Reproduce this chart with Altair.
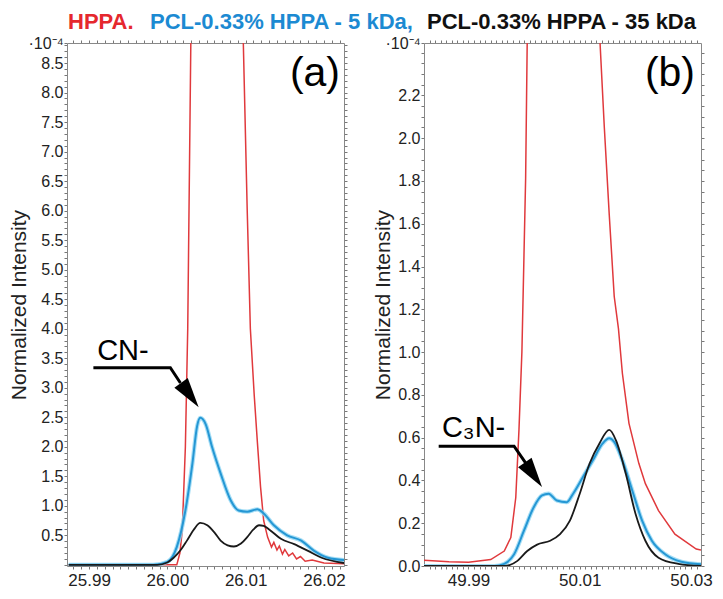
import altair as alt
import pandas as pd

# ---------------- data ----------------
# Panel (a): CN- region (m/z ~ 26.00)
a_hppa_x = [25.9874, 26.0012, 26.0016, 26.0019, 26.0023, 26.0026, 26.0030, 26.0040, 26.0060,
            26.0085, 26.0097, 26.0102, 26.0106, 26.0111, 26.0115, 26.0119, 26.0123, 26.0128,
            26.0133, 26.0136, 26.0140, 26.0143, 26.0147, 26.0150, 26.0155, 26.0160, 26.0165,
            26.0170, 26.0176, 26.0185, 26.0200, 26.0226]
a_hppa_y = [0.0, 0.0, 0.2, 0.58, 2.0, 4.0, 8.9, 25.0, 40.0,
            25.0, 8.84, 6.0, 4.0, 2.86, 2.07, 1.32, 0.75, 0.47,
            0.30, 0.38, 0.25, 0.32, 0.18, 0.26, 0.15, 0.20, 0.10,
            0.14, 0.06, 0.08, 0.03, 0.02]

a_5k_x = [25.9874, 25.9982, 26.0000, 26.0012, 26.0023, 26.0032, 26.0038, 26.0042, 26.0049,
          26.0057, 26.0068, 26.0081, 26.0091, 26.0102, 26.0115, 26.0123, 26.0136, 26.0153,
          26.0171, 26.0187, 26.0205, 26.0226]
a_5k_y = [0.0, 0.0, 0.05, 0.30, 0.92, 1.72, 2.35, 2.49, 2.38,
          2.0, 1.55, 1.09, 0.92, 0.90, 0.94, 0.87, 0.67, 0.50,
          0.41, 0.24, 0.12, 0.08]

a_35k_x = [25.9874, 25.9987, 26.0000, 26.0008, 26.0017, 26.0025, 26.0034, 26.0042, 26.0051,
           26.0060, 26.0068, 26.0077, 26.0085, 26.0094, 26.0102, 26.0110, 26.0117, 26.0123,
           26.0130, 26.0145, 26.0162, 26.0179, 26.0197, 26.0226]
a_35k_y = [0.0, 0.0, 0.04, 0.12, 0.25, 0.41, 0.60, 0.71, 0.67,
           0.55, 0.41, 0.33, 0.31, 0.36, 0.47, 0.60, 0.67, 0.66,
           0.60, 0.44, 0.35, 0.24, 0.12, 0.03]

# Panel (b): C3N- region (m/z ~ 50.00)
b_hppa_x = [49.9820, 49.9865, 49.9900, 49.9940, 49.99643, 49.99761, 49.99850, 49.99908,
            49.99960, 50.00027, 50.00056, 50.0020, 50.0070, 50.0120, 50.01366, 50.01442,
            50.01531, 50.01620, 50.01696, 50.01767, 50.01885, 50.02062, 50.02180, 50.02416,
            50.02711, 50.03094, 50.0318]
b_hppa_y = [0.027, 0.020, 0.017, 0.030, 0.070, 0.133, 0.32, 0.64,
            1.00, 1.81, 2.46, 4.5, 6.0, 4.5, 2.44, 2.05,
            1.64, 1.26, 1.11, 0.90, 0.667, 0.48, 0.385, 0.259,
            0.149, 0.079, 0.075]

b_5k_x = [49.9820, 49.99466, 49.99643, 49.99820, 49.99997, 50.00173, 50.00322, 50.00439,
          50.00588, 50.00765, 50.00881, 50.01058, 50.01235, 50.01412, 50.01531, 50.01620,
          50.01767, 50.01944, 50.02121, 50.02297, 50.02535, 50.02828, 50.0318]
b_5k_y = [0.0, 0.0, 0.01, 0.055, 0.165, 0.275, 0.33, 0.338,
          0.306, 0.298, 0.338, 0.416, 0.494, 0.573, 0.597, 0.58,
          0.494, 0.353, 0.212, 0.118, 0.055, 0.02, 0.008]

b_35k_x = [49.9820, 49.99643, 49.99880, 50.00056, 50.00234, 50.00469, 50.00646, 50.00823,
           50.01000, 50.01177, 50.01354, 50.01531, 50.01650, 50.01827, 50.02004, 50.02180,
           50.02416, 50.02770, 50.0318]
b_35k_y = [0.0, 0.0, 0.024, 0.07, 0.10, 0.118, 0.149, 0.212,
           0.338, 0.479, 0.573, 0.636, 0.588, 0.432, 0.243, 0.118,
           0.039, 0.01, 0.0]

# tick labels
a_x_labels = [25.99, 26.00, 26.01, 26.02]
b_x_labels = [49.99, 50.01, 50.03]
a_y_labels = [0.5, 1.0, 1.5, 2.0, 2.5, 3.0, 3.5, 4.0, 4.5, 5.0, 5.5, 6.0, 6.5, 7.0, 7.5, 8.0, 8.5]
b_y_labels = [0.0, 0.2, 0.4, 0.6, 0.8, 1.0, 1.2, 1.4, 1.6, 1.8, 2.0, 2.2]
exp_label = "·10⁻⁴"

# annotations (data coordinates)
a_note = "CN-"
a_note_xy = (25.99103, 3.47)
a_arrow_x = [25.99055, 26.00038, 26.00167]
a_arrow_y = [3.34, 3.34, 3.08]
a_tip = (26.0040, 2.67)

b_note = "C₃N-"
b_note_xy = (49.98522, 0.603)
b_arrow_x = [49.98464, 49.99819, 50.00039]
b_arrow_y = [0.56, 0.56, 0.477]
b_tip = (50.00322, 0.369)

title_parts = ["HPPA.", "PCL-0.33% HPPA - 5 kDa,", "PCL-0.33% HPPA - 35 kDa"]
title_colors = ["#e5282e", "#1c8ad2", "#111111"]

RED, BLUE, BLACK = "#e0393c", "#2597d4", "#1a1a1a"
BLUE_HALO = "#8fd6f4"
FONT = "Liberation Sans"
W, H = 277, 523


def panel(xdom, ydom, xticks, yticks, xlabels, ylabels, xfmt, series, note, note_xy,
          arrow_x, arrow_y, tip, tip_angle, tag, title_pad, tag_dx):
    xs = alt.Scale(domain=xdom, nice=False, zero=False)
    ys = alt.Scale(domain=ydom, nice=False, zero=False)
    xcond = " || ".join(f"abs(datum.value - ({v})) < 1e-6" for v in xlabels)
    ycond = " || ".join(f"abs(datum.value - ({v})) < 1e-6" for v in ylabels)
    top = ydom[1]
    bottom_axis = alt.Axis(orient="bottom", values=xticks,
                           labelExpr=f"({xcond}) ? format(datum.value, '{xfmt}') : ''",
                           labelOverlap=False, labelFontSize=17, labelFont=FONT, labelColor="#222",
                           tickSize=3, tickColor="#777", domainColor="#888", grid=False,
                           title=None, labelPadding=3, labelFlush=False)
    left_axis = alt.Axis(orient="left", values=yticks + [top],
                         labelExpr=f"datum.value > {top - 0.005} ? '{exp_label}' : (({ycond}) ? format(datum.value, '.1f') : '')",
                         labelOverlap=False, labelFontSize=16, labelFont=FONT, labelColor="#222",
                         tickSize=3, tickColor="#777", domainColor="#888", grid=False,
                         labelPadding=1, labelFlush=False,
                         title="Normalized Intensity", titleFont=FONT, titleFontSize=21,
                         titleFontWeight="normal", titleColor="#222", titlePadding=title_pad)
    top_axis = alt.Axis(orient="top", values=xticks, labels=False, tickSize=3, tickColor="#777",
                        domainColor="#888", grid=False, title=None)
    right_axis = alt.Axis(orient="right", values=yticks, labels=False, tickSize=3, tickColor="#777",
                          domainColor="#888", grid=False, title=None)

    layers = []
    for i, (sx, sy, col, sw, interp, halo) in enumerate(series):
        df = pd.DataFrame({"x": sx, "y": sy})
        enc = dict(
            x=alt.X("x:Q", scale=xs, axis=bottom_axis if i == 0 else None),
            y=alt.Y("y:Q", scale=ys, axis=left_axis if i == 0 else None),
        )
        if halo:
            layers.append(alt.Chart(df).mark_line(color=halo, strokeWidth=sw + 2.2, clip=True,
                                                  interpolate=interp, opacity=0.8).encode(
                x=alt.X("x:Q", scale=xs, axis=None), y=alt.Y("y:Q", scale=ys, axis=None)))
        layers.append(alt.Chart(df).mark_line(color=col, strokeWidth=sw, clip=True,
                                              interpolate=interp).encode(**enc))
    # arrow shaft (carries the top/right frame axes)
    shaft = alt.Chart(pd.DataFrame({"x": arrow_x, "y": arrow_y})).mark_line(
        color="black", strokeWidth=3).encode(
        x=alt.X("x:Q", scale=xs, axis=top_axis), y=alt.Y("y:Q", scale=ys, axis=right_axis))
    head = alt.Chart(pd.DataFrame({"x": [tip[0]], "y": [tip[1]]})).mark_point(
        shape="M0,0L-0.55,2L0.55,2Z", filled=True, size=900, angle=tip_angle,
        color="black", opacity=1).encode(
        x=alt.X("x:Q", scale=xs, axis=None), y=alt.Y("y:Q", scale=ys, axis=None))
    label = alt.Chart(pd.DataFrame({"x": [note_xy[0]], "y": [note_xy[1]], "t": [note]})).mark_text(
        align="left", baseline="alphabetic", fontSize=29, font=FONT, color="black").encode(
        x=alt.X("x:Q", scale=xs, axis=None), y=alt.Y("y:Q", scale=ys, axis=None), text="t:N")
    tagc = alt.Chart(pd.DataFrame({"t": [tag]})).mark_text(
        align="right", baseline="alphabetic", fontSize=41, font=FONT, color="black").encode(
        x=alt.value(W - tag_dx), y=alt.value(43), text="t:N")
    return alt.layer(*layers, shaft, head, label, tagc).resolve_axis(
        x="independent", y="independent").properties(width=W, height=H)


a_xticks = [round(25.988 + i * 0.001, 3) for i in range(35)]
b_xticks = [round(49.983 + i * 0.001, 3) for i in range(49)]
a_yticks = [round(i * 0.1, 1) for i in range(89)]
b_yticks = [round(i * 0.05, 2) for i in range(49)]

pa = panel([25.98718, 26.02256], [-0.02, 8.84], a_xticks, a_yticks, a_x_labels, a_y_labels, ".2f",
           [(a_hppa_x, a_hppa_y, RED, 1.5, "linear", None),
            (a_5k_x, a_5k_y, BLUE, 2.0, "monotone", BLUE_HALO),
            (a_35k_x, a_35k_y, BLACK, 1.8, "monotone", None)],
           a_note, a_note_xy, a_arrow_x, a_arrow_y, a_tip, 144, "(a)", -1, 4)

pb = panel([49.982, 50.0318], [0.0, 2.445], b_xticks, b_yticks, b_x_labels, b_y_labels, ".2f",
           [(b_hppa_x, b_hppa_y, RED, 1.5, "linear", None),
            (b_5k_x, b_5k_y, BLUE, 2.0, "monotone", BLUE_HALO),
            (b_35k_x, b_35k_y, BLACK, 1.8, "monotone", None)],
           b_note, b_note_xy, b_arrow_x, b_arrow_y, b_tip, 145, "(b)", -8, 6)

title_pos = [1, 83, 360]
title_layers = []
for txt, col, px in zip(title_parts, title_colors, title_pos):
    title_layers.append(alt.Chart(pd.DataFrame({"t": [txt]})).mark_text(
        align="left", baseline="alphabetic", fontSize=22, fontWeight="bold", font=FONT,
        color=col).encode(x=alt.value(px), y=alt.value(18), text="t:N"))
title = alt.layer(*title_layers).properties(width=560, height=24)

chart = alt.vconcat(title, alt.hconcat(pa, pb, spacing=24), spacing=0).properties(
    padding={"left": 0, "top": 3, "right": 0, "bottom": 0}
).configure_view(stroke=None)

chart.save("out.html", embed_options={"renderer": "svg", "actions": False})
